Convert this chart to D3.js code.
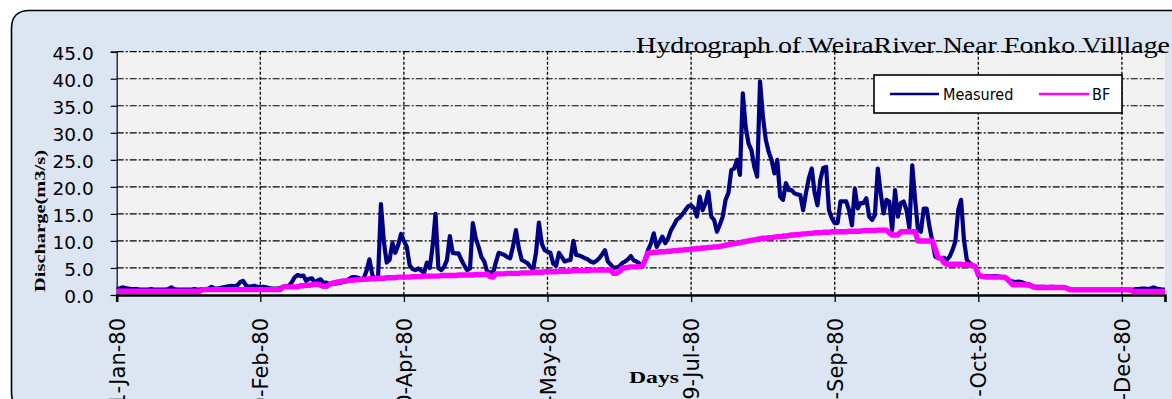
<!DOCTYPE html>
<html>
<head>
<meta charset="utf-8">
<script src="https://cdn.jsdelivr.net/npm/d3@7"></script>
<style>
  html, body { margin: 0; padding: 0; background: #ffffff; overflow: hidden; }
  svg { display: block; }
</style>
</head>
<body>
<svg id="chart" width="1172" height="399"></svg>
<script>
// Daily discharge of the Weira River, 1980 (one value per day from 1 Jan)
const startDate = "1980-01-01";
const endDate = "1980-12-31";

const measured = [
  1.0,1.2,1.4,1.3,1.2,1.1,1.1,1.1,1.0,1.0,
  1.0,1.0,1.1,1.0,1.0,1.0,1.0,1.0,1.1,1.4,
  1.1,1.0,1.0,1.0,1.0,1.0,1.0,1.1,1.0,1.0,
  1.1,1.1,1.2,1.5,1.2,1.2,1.3,1.4,1.5,1.6,
  1.7,1.6,1.8,2.4,2.6,1.8,1.5,1.6,1.7,1.5,
  1.4,1.5,1.4,1.3,1.2,1.2,1.2,1.3,1.5,1.6,
  1.7,2.4,3.3,3.7,3.5,3.6,2.6,3.0,3.1,2.3,
  2.7,2.9,2.2,2.3,2.0,2.2,2.1,2.2,2.3,2.4,
  2.6,3.0,3.3,3.3,3.2,2.9,3.0,4.5,6.6,3.7,
  3.0,3.2,16.8,10.0,6.0,6.5,9.6,7.8,9.2,11.3,
  10.0,8.9,5.5,4.8,4.6,4.9,4.5,4.1,6.0,5.0,
  9.0,15.0,5.0,4.6,5.2,6.5,10.9,7.8,7.7,7.7,
  6.5,5.5,4.6,4.9,13.3,10.5,8.9,7.0,6.2,4.3,
  4.2,4.0,6.0,7.8,7.6,7.4,7.0,6.8,9.0,12.0,
  8.7,6.5,6.2,5.9,5.2,4.8,7.8,13.4,9.5,8.3,
  8.0,7.8,5.8,5.4,7.8,7.0,6.2,6.4,6.5,10.0,
  7.4,7.3,7.1,6.8,6.6,6.2,6.0,6.3,6.8,7.5,
  8.3,6.2,5.6,5.0,5.1,5.3,5.9,6.2,6.6,7.2,
  6.4,6.2,5.8,5.3,6.5,8.3,9.5,11.4,8.9,9.8,
  10.8,9.6,10.5,12.0,12.9,13.9,14.3,15.0,15.7,16.4,
  16.6,16.1,14.5,18.2,15.7,17.0,19.1,14.5,13.9,11.7,
  13.0,14.5,17.6,18.9,23.1,23.4,25.0,22.2,37.3,31.1,
  28.0,26.8,23.7,21.9,39.5,33.0,28.7,26.5,25.0,22.5,
  25.0,18.2,17.6,20.7,19.4,19.4,18.8,18.6,18.5,15.7,
  18.9,21.6,23.4,18.9,16.6,21.3,23.5,23.7,15.7,14.2,
  13.3,13.3,17.3,17.3,17.3,15.7,12.9,19.7,16.0,17.0,
  17.0,17.9,14.5,13.9,14.8,23.4,18.9,15.1,17.6,17.3,
  12.0,19.4,14.5,17.0,17.3,15.7,12.4,24.0,17.6,12.0,
  11.7,16.0,16.0,12.6,9.9,7.1,6.8,6.8,6.9,6.5,
  7.1,8.3,9.9,15.7,17.6,10.2,6.5,5.9,5.5,5.3,
  3.6,3.5,3.5,3.5,3.4,3.5,3.5,3.4,3.3,3.3,
  3.1,2.6,2.5,2.4,2.5,2.4,2.2,2.0,1.9,1.6,
  1.5,1.5,1.5,1.5,1.4,1.5,1.5,1.4,1.4,1.4,
  1.4,1.2,1.0,1.0,1.0,1.0,1.0,1.0,1.0,1.0,
  1.0,1.0,1.0,1.0,1.0,1.0,1.0,1.0,1.0,1.0,
  1.0,1.0,1.0,1.0,1.0,1.1,1.1,1.2,1.2,1.1,
  1.2,1.4,1.2,1.1,1.0,1.0
];

// Separated baseflow (BF)
const baseflow = [
  0.7,0.7,0.7,0.7,0.7,0.7,0.7,0.7,0.7,0.7,
  0.7,0.7,0.7,0.7,0.7,0.7,0.7,0.7,0.7,0.7,
  0.7,0.7,0.7,0.7,0.7,0.7,0.7,0.7,0.7,0.7,
  1.0,1.0,1.0,1.0,1.0,1.0,1.0,1.0,1.0,1.0,
  1.0,1.0,1.0,1.0,1.0,1.0,1.0,1.0,1.0,1.0,
  1.0,1.0,1.0,1.0,1.0,1.0,1.0,1.0,1.5,1.5,
  1.5,1.5,1.5,1.5,1.7,1.7,1.8,1.8,1.9,2.0,
  2.0,1.8,1.6,1.6,1.9,2.2,2.3,2.4,2.5,2.6,
  2.6,2.7,2.7,2.8,2.8,2.9,2.9,2.9,3.0,3.0,
  3.0,3.1,3.1,3.1,3.2,3.2,3.2,3.2,3.3,3.3,
  3.3,3.3,3.3,3.4,3.4,3.4,3.4,3.5,3.5,3.5,
  3.5,3.5,3.5,3.6,3.6,3.6,3.6,3.6,3.6,3.7,
  3.7,3.7,3.7,3.7,3.7,3.8,3.8,3.8,3.8,3.9,
  3.4,3.3,3.9,3.9,3.9,3.9,4.0,4.0,4.0,4.0,
  4.0,4.1,4.1,4.1,4.1,4.2,4.2,4.2,4.2,4.3,
  4.3,4.3,4.3,4.3,4.4,4.4,4.4,4.4,4.4,4.5,
  4.5,4.5,4.5,4.5,4.5,4.6,4.6,4.6,4.6,4.6,
  4.6,4.6,4.6,4.0,4.0,4.3,5.0,5.0,5.1,5.2,
  5.2,5.2,5.3,5.3,6.5,7.8,7.8,7.9,7.9,8.0,
  8.0,8.0,8.1,8.1,8.2,8.2,8.3,8.3,8.4,8.4,
  8.5,8.5,8.6,8.6,8.7,8.7,8.8,8.8,8.9,8.9,
  9.0,9.1,9.2,9.3,9.4,9.5,9.6,9.7,9.8,9.9,
  10.0,10.1,10.2,10.3,10.4,10.5,10.5,10.6,10.6,10.7,
  10.8,10.8,10.9,10.9,11.0,11.1,11.1,11.2,11.2,11.3,
  11.3,11.4,11.4,11.5,11.5,11.5,11.6,11.6,11.6,11.7,
  11.7,11.7,11.7,11.7,11.7,11.8,11.8,11.8,11.8,11.8,
  11.9,11.9,11.9,11.9,11.9,12.0,12.0,12.0,12.0,11.5,
  11.1,11.1,11.1,11.7,11.7,11.7,11.7,11.7,11.7,10.0,
  10.0,10.0,10.0,10.0,10.0,8.5,6.9,6.8,6.0,5.7,
  5.7,5.7,5.7,5.7,5.7,5.6,5.6,5.5,5.5,5.2,
  3.8,3.5,3.4,3.3,3.3,3.3,3.3,3.3,3.3,3.3,
  3.0,2.4,1.9,1.9,1.9,1.9,1.9,1.85,1.8,1.5,
  1.4,1.4,1.4,1.4,1.4,1.4,1.4,1.4,1.4,1.4,
  1.4,1.2,0.95,0.95,0.95,0.95,0.95,0.95,0.95,0.95,
  0.95,0.95,0.95,0.95,0.95,0.95,0.95,0.95,0.95,0.95,
  0.95,0.95,0.95,0.9,0.65,0.65,0.65,0.65,0.65,0.65,
  0.65,0.65,0.65,0.65,0.65,0.65
];

const tickDates = ["1980-01-01","1980-02-20","1980-04-10","1980-05-30",
                   "1980-07-19","1980-09-07","1980-10-27","1980-12-16"];
const tickLabels = ["1-Jan-80","20-Feb-80","10-Apr-80","30-May-80",
                    "19-Jul-80","7-Sep-80","27-Oct-80","16-Dec-80"];
const yTicks = [0, 5, 10, 15, 20, 25, 30, 35, 40, 45];
const seriesNames = ["Measured", "BF"];
const seriesColors = ["#000080", "#ff00ff"];

const titleText = "Hydrograph of WeiraRiver Near Fonko Villlage";
const yTitle = "Discharge(m3/s)";
const xTitle = "Days";

// ---- layout ----
const plot = { left: 116.7, right: 1165, top: 51.7, bottom: 295 };
const svg = d3.select("#chart");

const parse = d3.utcParse("%Y-%m-%d");
const t0 = parse(startDate);
const dayDate = i => d3.utcDay.offset(t0, i);

const x = d3.scaleUtc().domain([t0, parse(endDate)]).range([plot.left, plot.right]);
const y = d3.scaleLinear().domain([0, 45]).range([plot.bottom, plot.top]);

// chart frame
svg.append("path")
  .attr("d", (() => {
    const x0 = 11.5, y0 = 10.5, x1 = 1190, y1 = 410, r = 18;
    return `M${x0},${y0 + r} Q${x0},${y0} ${x0 + r},${y0} L${x1},${y0} L${x1},${y1} L${x0 + r},${y1} Q${x0},${y1} ${x0},${y1 - r} Z`;
  })())
  .attr("fill", "#dce6f2")
  .attr("stroke", "#000")
  .attr("stroke-width", 1.6);

// plot area
svg.append("rect")
  .attr("x", plot.left).attr("y", plot.top)
  .attr("width", plot.right - plot.left).attr("height", plot.bottom - plot.top)
  .attr("fill", "#f2f2f2");

// horizontal grid (dash-dot)
svg.append("g").selectAll("line")
  .data(yTicks.filter(v => v > 0))
  .join("line")
  .attr("x1", plot.left).attr("x2", plot.right)
  .attr("y1", d => y(d)).attr("y2", d => y(d))
  .attr("stroke", "#000").attr("stroke-width", 1.2)
  .attr("stroke-dasharray", "7,2,2,2");

// vertical grid (dashed)
svg.append("g").selectAll("line")
  .data(tickDates.slice(1).map(parse))
  .join("line")
  .attr("x1", d => x(d)).attr("x2", d => x(d))
  .attr("y1", plot.top).attr("y2", plot.bottom)
  .attr("stroke", "#000").attr("stroke-width", 1.3)
  .attr("stroke-dasharray", "3,2");

// y axis
const yAxis = svg.append("g")
  .attr("transform", `translate(${plot.left},0)`)
  .call(d3.axisLeft(y).tickValues(yTicks).tickFormat(d3.format(".1f"))
        .tickSize(6).tickPadding(17));
yAxis.select(".domain").attr("stroke", "#000").attr("stroke-width", 1.2);
yAxis.selectAll(".tick line").attr("stroke", "#000").attr("stroke-width", 1.2);
yAxis.selectAll(".tick text")
  .attr("dy", "0.42em")
  .attr("fill", "#000")
  .style("font-family", "'DejaVu Sans', sans-serif")
  .style("font-size", "18.5px");

// x axis
const xAxis = svg.append("g")
  .attr("transform", `translate(0,${plot.bottom})`)
  .call(d3.axisBottom(x).tickValues(tickDates.map(parse))
        .tickFormat((d, i) => tickLabels[i]).tickSize(7).tickPadding(0));
xAxis.select(".domain").attr("stroke", "#000").attr("stroke-width", 2.6);
xAxis.selectAll(".tick line").attr("stroke", "#000").attr("stroke-width", 1.3);
xAxis.selectAll(".tick text")
  .attr("text-anchor", "end")
  .attr("transform", "translate(0,23) rotate(-90)")
  .attr("x", 0).attr("y", 0)
  .attr("dy", "0.36em")
  .attr("fill", "#000")
  .style("font-family", "'DejaVu Sans', sans-serif")
  .style("font-size", "21px");

// series
const lineGen = d3.line()
  .x((d, i) => x(dayDate(i)))
  .y(d => y(d));

svg.append("path")
  .datum(measured)
  .attr("d", lineGen)
  .attr("fill", "none")
  .attr("stroke", seriesColors[0])
  .attr("stroke-width", 4.2)
  .attr("stroke-linejoin", "round");

svg.append("path")
  .datum(baseflow)
  .attr("d", lineGen)
  .attr("fill", "none")
  .attr("stroke", seriesColors[1])
  .attr("stroke-width", 5.4)
  .attr("stroke-linejoin", "round");

// title
svg.append("text")
  .attr("x", 636).attr("y", 53)
  .attr("textLength", 534).attr("lengthAdjust", "spacingAndGlyphs")
  .style("font-family", "'Liberation Serif', 'Times New Roman', serif")
  .style("font-size", "23px")
  .attr("fill", "#000")
  .text(titleText);

// axis titles
svg.append("text")
  .attr("transform", "translate(45,221) rotate(-90)")
  .attr("text-anchor", "middle")
  .attr("textLength", 142).attr("lengthAdjust", "spacingAndGlyphs")
  .style("font-family", "'Liberation Serif', 'Times New Roman', serif")
  .style("font-size", "15px").style("font-weight", "bold")
  .attr("fill", "#000")
  .text(yTitle);

svg.append("text")
  .attr("x", 629).attr("y", 383)
  .attr("textLength", 50).attr("lengthAdjust", "spacingAndGlyphs")
  .style("font-family", "'Liberation Serif', 'Times New Roman', serif")
  .style("font-size", "16px").style("font-weight", "bold")
  .attr("fill", "#000")
  .text(xTitle);

// legend
const legend = svg.append("g").attr("transform", "translate(874,75)");
legend.append("rect")
  .attr("width", 248).attr("height", 38)
  .attr("fill", "#fff").attr("stroke", "#000").attr("stroke-width", 1.6);
const legendItems = [{ x0: 16, x1: 65, tx: 69 }, { x0: 165, x1: 215, tx: 218 }];
legendItems.forEach((p, i) => {
  legend.append("line")
    .attr("x1", p.x0).attr("x2", p.x1).attr("y1", 19).attr("y2", 19)
    .attr("stroke", seriesColors[i]).attr("stroke-width", 2.4);
  legend.append("text")
    .attr("x", p.tx).attr("y", 25)
    .style("font-family", "'DejaVu Sans Condensed', 'DejaVu Sans', sans-serif")
    .style("font-stretch", "condensed")
    .style("font-weight", "300")
    .style("font-size", "16px")
    .attr("fill", "#000")
    .text(seriesNames[i]);
});
</script>
</body>
</html>
